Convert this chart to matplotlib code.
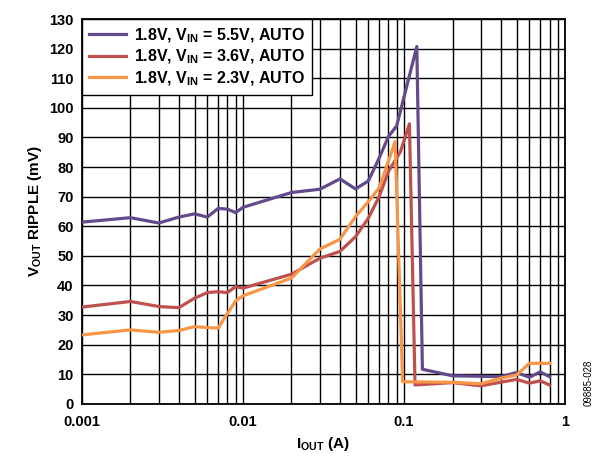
import matplotlib
matplotlib.use("Agg")
import matplotlib.pyplot as plt
from matplotlib.ticker import LogLocator, FixedLocator

plt.rcParams['font.family'] = ['Liberation Sans', 'DejaVu Sans']
plt.rcParams['mathtext.fontset'] = 'custom'
plt.rcParams['mathtext.rm'] = 'Liberation Sans'
plt.rcParams['mathtext.bf'] = 'Liberation Sans:bold'

# data
i_55 = [0.001, 0.002, 0.003, 0.004, 0.005, 0.006, 0.007, 0.008, 0.009, 0.01,
        0.02, 0.03, 0.04, 0.05, 0.06, 0.07, 0.08, 0.09, 0.12, 0.13,
        0.2, 0.4, 0.5, 0.6, 0.7, 0.8]
r_55 = [61.4, 62.9, 61.1, 63.1, 64.2, 63.1, 66.0, 65.8, 64.6, 66.4,
        71.4, 72.5, 76.0, 72.6, 75.3, 83.0, 90.3, 93.9, 120.7, 11.7,
        9.5, 9.2, 10.6, 9.0, 10.8, 9.2]

i_36 = [0.001, 0.002, 0.003, 0.004, 0.005, 0.006, 0.007, 0.008, 0.009, 0.01,
        0.02, 0.03, 0.04, 0.05, 0.06, 0.07, 0.08, 0.095, 0.108, 0.117,
        0.2, 0.3, 0.5, 0.6, 0.7, 0.8]
r_36 = [32.7, 34.6, 32.9, 32.5, 35.7, 37.6, 37.9, 37.6, 39.6, 39.1,
        43.8, 49.2, 51.5, 56.5, 62.7, 70.0, 78.5, 85.2, 94.6, 6.4,
        7.2, 6.1, 8.3, 7.0, 7.8, 6.4]

i_23 = [0.001, 0.002, 0.003, 0.004, 0.005, 0.006, 0.007, 0.009, 0.01,
        0.02, 0.03, 0.04, 0.05, 0.06, 0.07, 0.088, 0.098,
        0.2, 0.3, 0.4, 0.5, 0.6, 0.7, 0.8]
r_23 = [23.3, 25.0, 24.2, 24.8, 26.1, 25.8, 25.6, 34.8, 36.5,
        42.5, 52.3, 55.6, 63.3, 68.3, 72.9, 88.6, 7.5,
        7.3, 6.8, 8.7, 9.8, 13.7, 13.7, 13.7]

labels = [r'1.8V, V$_{\mathbf{IN}}$ = 5.5V, AUTO',
          r'1.8V, V$_{\mathbf{IN}}$ = 3.6V, AUTO',
          r'1.8V, V$_{\mathbf{IN}}$ = 2.3V, AUTO']
colors = ['#634a8c', '#c0504d', '#f79646']

fig = plt.figure(figsize=(5.98, 4.59), dpi=100)
ax = fig.add_axes([0.137, 0.12, 0.808, 0.8386])

ax.plot(i_55, r_55, color=colors[0], lw=2.3, label=labels[0], zorder=3)
ax.plot(i_36, r_36, color=colors[1], lw=2.3, label=labels[1], zorder=3)
ax.plot(i_23, r_23, color=colors[2], lw=2.3, label=labels[2], zorder=3)

ax.set_xscale('log')
ax.set_xlim(0.001, 1)
ax.set_ylim(0, 130)
ax.xaxis.set_major_locator(FixedLocator([0.001, 0.01, 0.1, 1]))
ax.xaxis.set_minor_locator(LogLocator(base=10, subs=range(2, 10), numticks=20))
ax.set_xticklabels(['0.001', '0.01', '0.1', '1'])
ax.yaxis.set_major_locator(FixedLocator(range(0, 131, 10)))
ax.tick_params(which='both', length=0, labelsize=10.5, pad=6)
ax.tick_params(axis='x', pad=8)
for t in ax.get_xticklabels() + ax.get_yticklabels():
    t.set_fontweight('bold')

ax.grid(True, which='both', color='black', lw=1.0)
for s in ax.spines.values():
    s.set_color('black')
    s.set_linewidth(1.3)

ax.set_xlabel(r'I$_{\mathbf{OUT}}$ (A)', fontsize=11, fontweight='bold')
ax.set_ylabel(r'V$_{\mathbf{OUT}}$ RIPPLE (mV)', fontsize=11, fontweight='bold')

leg = ax.legend(loc='upper left', fancybox=False, framealpha=1, edgecolor='black',
                prop={'weight': 'bold', 'size': 11.5}, handlelength=2.3,
                borderaxespad=0, labelspacing=0.2, borderpad=0.45, handletextpad=0.5)
leg.get_frame().set_linewidth(1.0)
leg.set_zorder(5)

fig.text(0.985, 0.115, '09885-028', rotation=90, fontsize=7, ha='center', va='bottom')

fig.savefig('out.png', dpi=100)
